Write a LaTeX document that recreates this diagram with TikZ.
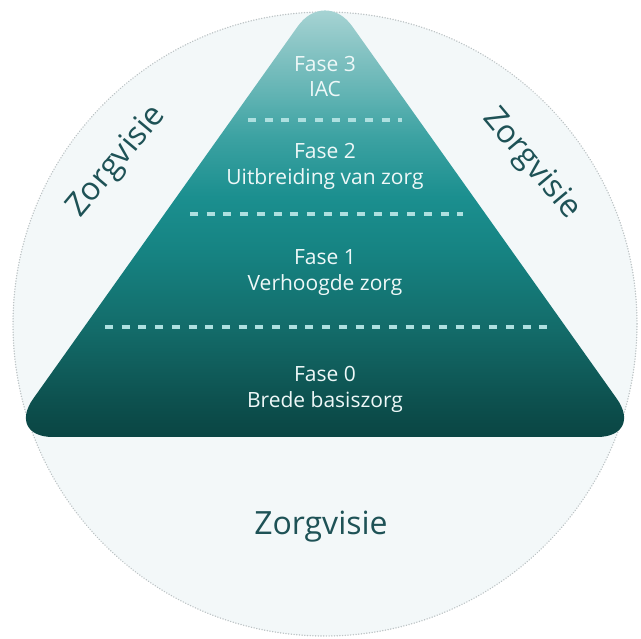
\documentclass[tikz,border=0pt]{standalone}
\usepackage{fontspec}
\setmainfont{Open Sans}
\definecolor{circfill}{HTML}{F3F8F9}
\definecolor{circline}{HTML}{BCC3C5}
\definecolor{visietext}{HTML}{1E5256}
\definecolor{dashcol}{HTML}{AEE0E0}
\definecolor{fasetext}{HTML}{EEF8F8}
\definecolor{pyA}{HTML}{0A4543}
\definecolor{pyB}{HTML}{0D504E}
\definecolor{pyC}{HTML}{136B69}
\definecolor{pyD}{HTML}{168483}
\definecolor{pyE}{HTML}{1B8F8F}
\definecolor{pyF}{HTML}{3CA2A2}
\definecolor{pyG}{HTML}{5EB2B2}
\definecolor{pyH}{HTML}{8CC6C6}
\definecolor{pyI}{HTML}{A8D4D4}
\pgfdeclareverticalshading{pyrshade}{100bp}{color(0bp)=(pyA); color(25bp)=(pyA); color(29bp)=(pyB); color(37.5bp)=(pyC); color(47bp)=(pyD); color(53bp)=(pyE); color(60bp)=(pyF); color(64.5bp)=(pyG); color(71bp)=(pyH); color(75bp)=(pyI); color(100bp)=(pyI)}
\tikzset{
  fasefont/.style={font=\fontsize{21}{26}\selectfont, text=fasetext, inner sep=0pt, anchor=base},
  visie/.style={font=\fontsize{32}{38}\selectfont, text=visietext, inner sep=0pt},
  dashline/.style={draw=dashcol, line width=3.6pt, dash pattern=on 8pt off 8.7pt},
}
\begin{document}
\begin{tikzpicture}[x=1pt,y={(0pt,-1pt)}]
\useasboundingbox (0,0) rectangle (641,639);
\fill[white] (0,0) rectangle (641,639);
% circle
\fill[circfill] (325,324) circle[radius=312];
\draw[circline, line width=1.5pt, dash pattern=on 0.1pt off 2.6pt, line cap=round] (325,324) circle[radius=312];
% pyramid
\begin{scope}
\clip[rounded corners=47pt] (325,437) -- (644,437) -- (325,-12) -- (6,437) -- cycle;
\shade[shading=pyrshade] (0,437) rectangle (641,8);
\end{scope}
% dashed separators
\coordinate (d3l) at (248,120); \coordinate (d3r) at (402,120);
\coordinate (d2l) at (190,214); \coordinate (d2r) at (463,214);
\coordinate (d1l) at (105,327); \coordinate (d1r) at (547,327);
\draw[dashline] (d3l) -- (d3r);
\draw[dashline] (d2l) -- (d2r);
\draw[dashline] (d1l) -- (d1r);
% labels
\node[fasefont] (f3a) at (325,72) {Fase 3};
\node[fasefont] (f3b) at (325,97) {IAC};
\node[fasefont] (f2a) at (325,159) {Fase 2};
\node[fasefont] (f2b) at (325,185) {Uitbreiding van zorg};
\node[fasefont] (f1a) at (325,265) {Fase 1};
\node[fasefont] (f1b) at (325,291) {Verhoogde zorg};
\node[fasefont] (f0a) at (325,382) {Fase 0};
\node[fasefont] (f0b) at (325,408) {Brede basiszorg};
% zorgvisie
\node[visie, rotate=50] (vl) at (117,162) {Zorgvisie};
\node[visie, rotate=-50] (vr) at (531,164) {Zorgvisie};
\node[visie, anchor=base] (vb) at (321,535) {Zorgvisie};
\end{tikzpicture}
\end{document}
